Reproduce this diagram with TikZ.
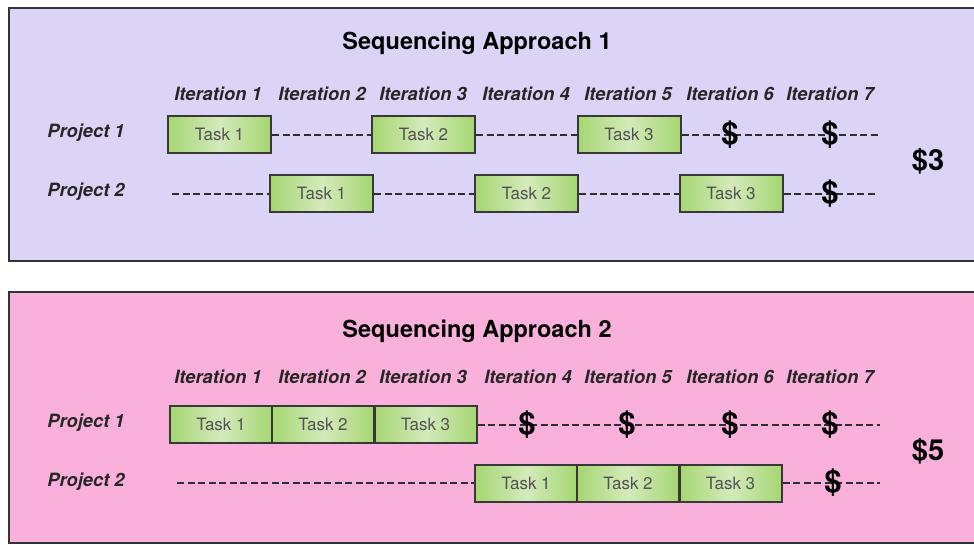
\documentclass[tikz,border=0pt]{standalone}
\usepackage{fontspec}
\setmainfont{TeX Gyre Heros}
\begin{document}
\begin{tikzpicture}[x=1pt,y=-1pt,
  panel/.style={draw=black!80, line width=1.5pt},
  titletext/.style={font=\bfseries\fontsize{23.5}{26}\selectfont},
  itertext/.style={font=\bfseries\itshape\fontsize{18.3}{21}\selectfont, text=black!85},
  projtext/.style={font=\bfseries\itshape\fontsize{18.3}{21}\selectfont, text=black!85},
  taskbox/.style={draw=black!78, line width=2pt, minimum width=103pt, minimum height=37pt,
    inner sep=0pt, left color=taskgreen, right color=taskgreen, middle color=tasklight,
    font=\fontsize{17}{19}\selectfont, text=black!68},
  dollar/.style={inner sep=0pt, font=\bfseries\fontsize{31}{34}\selectfont},
  total/.style={inner sep=0pt, font=\bfseries\fontsize{29}{32}\selectfont},
  dashline/.style={draw=black!82, line width=2pt, dash pattern=on 7pt off 3.5pt}
]
\definecolor{lav}{HTML}{DCD4F6}
\definecolor{pinkbg}{HTML}{F9B0DA}
\definecolor{taskgreen}{HTML}{A6D672}
\definecolor{tasklight}{HTML}{D3EABB}
\useasboundingbox (0,0) rectangle (974,544);
\fill[white] (0,0) rectangle (974,544);

% ---------- Panel 1 ----------
\filldraw[panel, fill=lav] (9,8) rectangle (978,261);
\node[titletext] (t1) at (477,43) {Sequencing Approach 1};
\foreach \i/\x in {1/218,2/322,3/423,4/526,5/628,6/730,7/830}
  \node[itertext] (a1it\i) at (\x,94) {Iteration \i};
\node[projtext] (a1p1) at (86,133) {Project 1};
\node[projtext] (a1p2) at (86,192) {Project 2};

\node[taskbox] (a1r1t1) at (219.5,134.5) {Task 1};
\node[taskbox] (a1r1t2) at (423.5,134.5) {Task 2};
\node[taskbox] (a1r1t3) at (629,134.5) {Task 3};
\coordinate (a1r1d6) at (730,134.5);
\coordinate (a1r1d7) at (830,134.5);
\coordinate (a1r1end) at (878,134.5);

\coordinate (a1r2start) at (172,193.5);
\node[taskbox] (a1r2t1) at (321.5,193.5) {Task 1};
\node[taskbox] (a1r2t2) at (526.5,193.5) {Task 2};
\node[taskbox] (a1r2t3) at (731,193.5) {Task 3};
\coordinate (a1r2d7) at (830,193.5);
\coordinate (a1r2end) at (878,193.5);

\draw[dashline] (a1r1t1) -- (a1r1t2);
\draw[dashline] (a1r1t2) -- (a1r1t3);
\draw[dashline] (a1r1t3) -- (a1r1d6) -- (a1r1d7) -- (a1r1end);
\draw[dashline] (a1r2start) -- (a1r2t1);
\draw[dashline] (a1r2t1) -- (a1r2t2);
\draw[dashline] (a1r2t2) -- (a1r2t3);
\draw[dashline] (a1r2t3) -- (a1r2d7) -- (a1r2end);

\node[dollar] (a1s1) at (a1r1d6) {\$};
\node[dollar] (a1s2) at (a1r1d7) {\$};
\node[dollar] (a1s3) at (a1r2d7) {\$};
\node[total] (a1tot) at (928,161) {\$3};

% ---------- Panel 2 ----------
\filldraw[panel, fill=pinkbg] (9,292) rectangle (978,543);
\node[titletext] (t2) at (477,331) {Sequencing Approach 2};
\foreach \i/\x in {1/218,2/322,3/423,4/528,5/628,6/730,7/830}
  \node[itertext] (a2it\i) at (\x,377) {Iteration \i};
\node[projtext] (a2p1) at (86,423) {Project 1};
\node[projtext] (a2p2) at (86,482) {Project 2};

\node[taskbox, minimum width=102pt] (a2r1t1) at (221,424.5) {Task 1};
\node[taskbox, minimum width=102pt] (a2r1t2) at (323,424.5) {Task 2};
\node[taskbox, minimum width=102pt] (a2r1t3) at (425.5,424.5) {Task 3};
\coordinate (a2r1d4) at (527,424.5);
\coordinate (a2r1d5) at (627,424.5);
\coordinate (a2r1d6) at (730,424.5);
\coordinate (a2r1d7) at (830,424.5);
\coordinate (a2r1end) at (880,424.5);

\coordinate (a2r2start) at (177,483);
\node[taskbox, minimum width=102pt] (a2r2t1) at (526,483) {Task 1};
\node[taskbox, minimum width=102pt] (a2r2t2) at (628,483) {Task 2};
\node[taskbox, minimum width=102pt] (a2r2t3) at (730.5,483) {Task 3};
\coordinate (a2r2d7) at (833,483);
\coordinate (a2r2end) at (880,483);

\draw[dashline] (a2r1t3) -- (a2r1d4) -- (a2r1d5) -- (a2r1d6) -- (a2r1d7) -- (a2r1end);
\draw[dashline] (a2r2start) -- (a2r2t1);
\draw[dashline] (a2r2t3) -- (a2r2d7) -- (a2r2end);

\node[dollar] (a2s1) at (a2r1d4) {\$};
\node[dollar] (a2s2) at (a2r1d5) {\$};
\node[dollar] (a2s3) at (a2r1d6) {\$};
\node[dollar] (a2s4) at (a2r1d7) {\$};
\node[dollar] (a2s5) at (a2r2d7) {\$};
\node[total] (a2tot) at (928,451) {\$5};
\end{tikzpicture}
\end{document}
